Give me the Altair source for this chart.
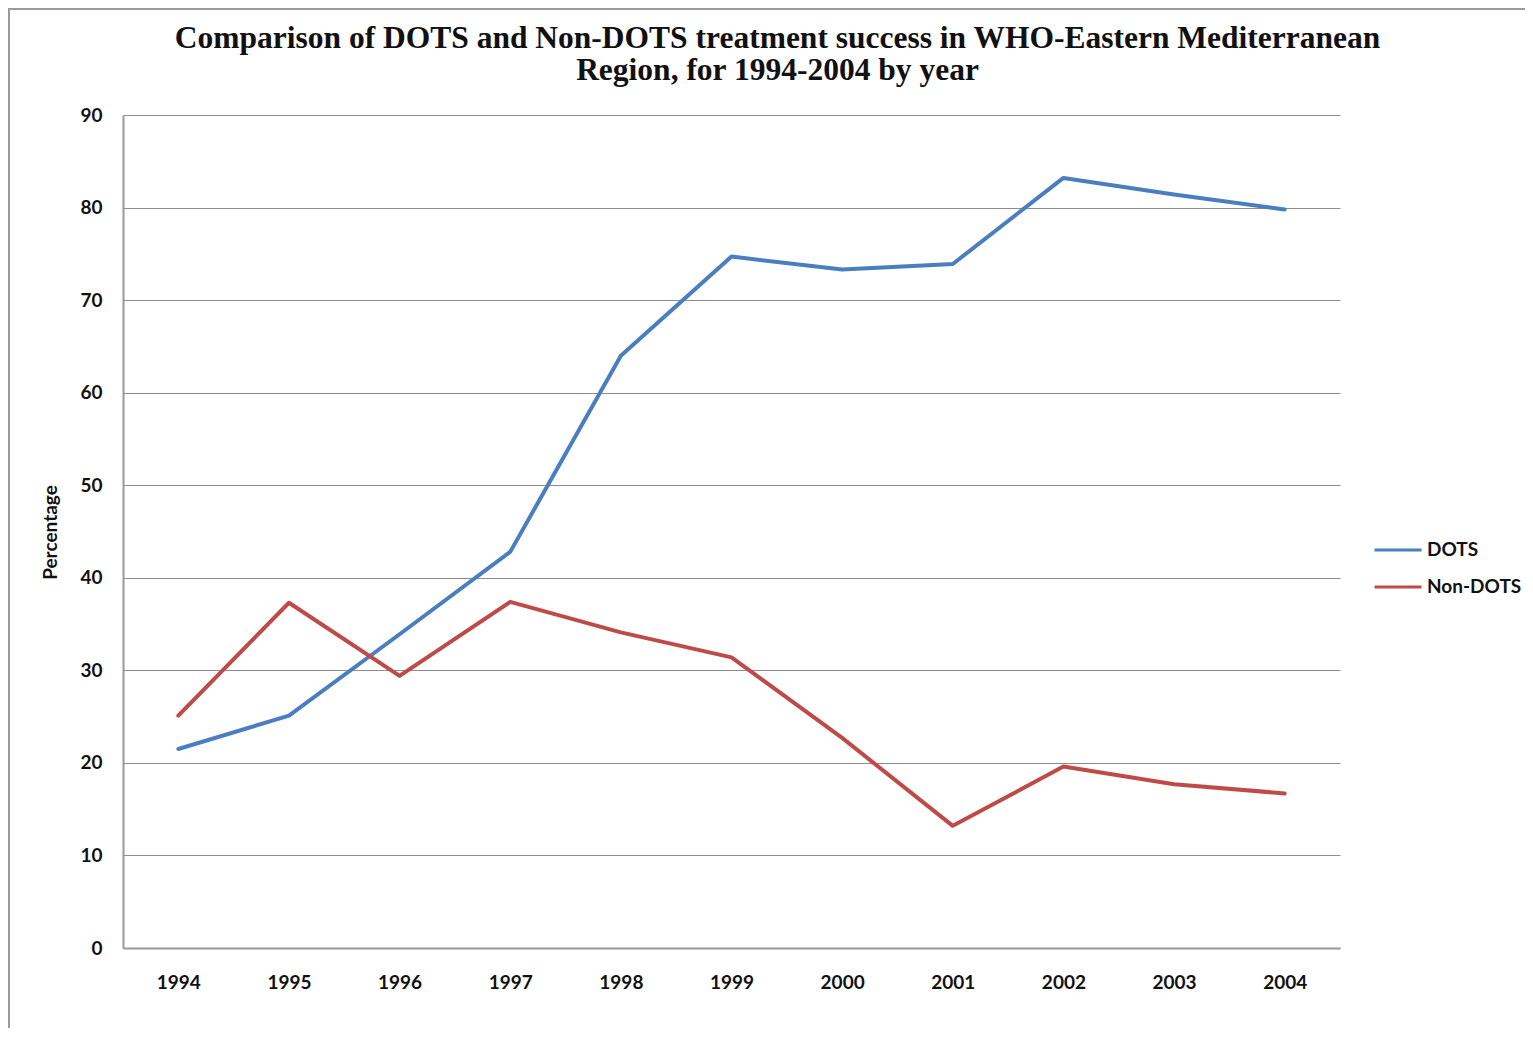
import altair as alt
import pandas as pd

years = ["1994", "1995", "1996", "1997", "1998", "1999", "2000", "2001", "2002", "2003", "2004"]
dots = [21.5, 25.1, 33.9, 42.8, 64.0, 74.7, 73.3, 73.9, 83.2, 81.4, 79.8]
non_dots = [25.1, 37.3, 29.4, 37.4, 34.1, 31.4, 22.7, 13.2, 19.6, 17.7, 16.7]
series = ["DOTS", "Non-DOTS"]
colors = ["#4A7EBF", "#BE4B48"]

rows = []
for name, vals in zip(series, [dots, non_dots]):
    for y, v in zip(years, vals):
        rows.append({"Year": y, "Percentage": v, "Series": name})
df = pd.DataFrame(rows)

FONT = "Lato"

frame = alt.Chart(pd.DataFrame({"k": [0]})).mark_rect(
    fill=None, stroke="#9a9a9a", strokeWidth=2
).encode(
    x=alt.value(-114), x2=alt.value(1500),
    y=alt.value(-106), y2=alt.value(1000),
)

lines = alt.Chart(df).mark_line(strokeWidth=4, strokeCap="round", strokeJoin="round").encode(
    x=alt.X("Year:O", sort=years, scale=alt.Scale(type="point", padding=0.5),
            axis=alt.Axis(title=None, labelAngle=0, ticks=False, grid=False,
                          labelPadding=25, labelFontSize=19, labelFontWeight="bold",
                          labelFont=FONT, labelColor="#111",
                          domainColor="#999999", domainWidth=2)),
    y=alt.Y("Percentage:Q", scale=alt.Scale(domain=[0, 90], nice=False),
            axis=alt.Axis(title="Percentage", values=list(range(0, 91, 10)), ticks=False,
                          labelPadding=21, labelFontSize=19, labelFontWeight="bold",
                          labelFont=FONT, labelColor="#111",
                          titleFont=FONT, titleFontSize=19, titleFontWeight="bold",
                          titleColor="#111", titleX=-63, titleY=417, titleAlign="center",
                          titleAngle=270,
                          gridColor="#8c8c8c", gridWidth=1,
                          domainColor="#999999", domainWidth=2)),
    color=alt.Color("Series:N", scale=alt.Scale(domain=series, range=colors),
                    legend=alt.Legend(title=None, orient="none", legendX=1250, legendY=410,
                                      symbolType="stroke", symbolSize=2209, symbolStrokeWidth=3,
                                      labelFont=FONT, labelFontSize=19, labelFontWeight="bold",
                                      labelColor="#111", labelOffset=4, rowPadding=2)),
)

chart = alt.layer(frame, lines).properties(
    width=1217,
    height=833,
    padding={"left": 115, "top": 107, "right": 185, "bottom": 80},
    autosize=alt.AutoSizeParams(type="none"),
    background="white",
    title=alt.TitleParams(
        text=["Comparison of DOTS and Non-DOTS treatment success in WHO-Eastern Mediterranean",
              "Region, for 1994-2004 by year"],
        font="Liberation Serif", fontSize=31.5, fontWeight="bold", color="#111",
        anchor="middle", frame="group", dx=46, offset=-78, lineHeight=32,
    ),
).configure_view(stroke=None)

chart.save("out.html", embed_options={"renderer": "svg", "actions": False})
